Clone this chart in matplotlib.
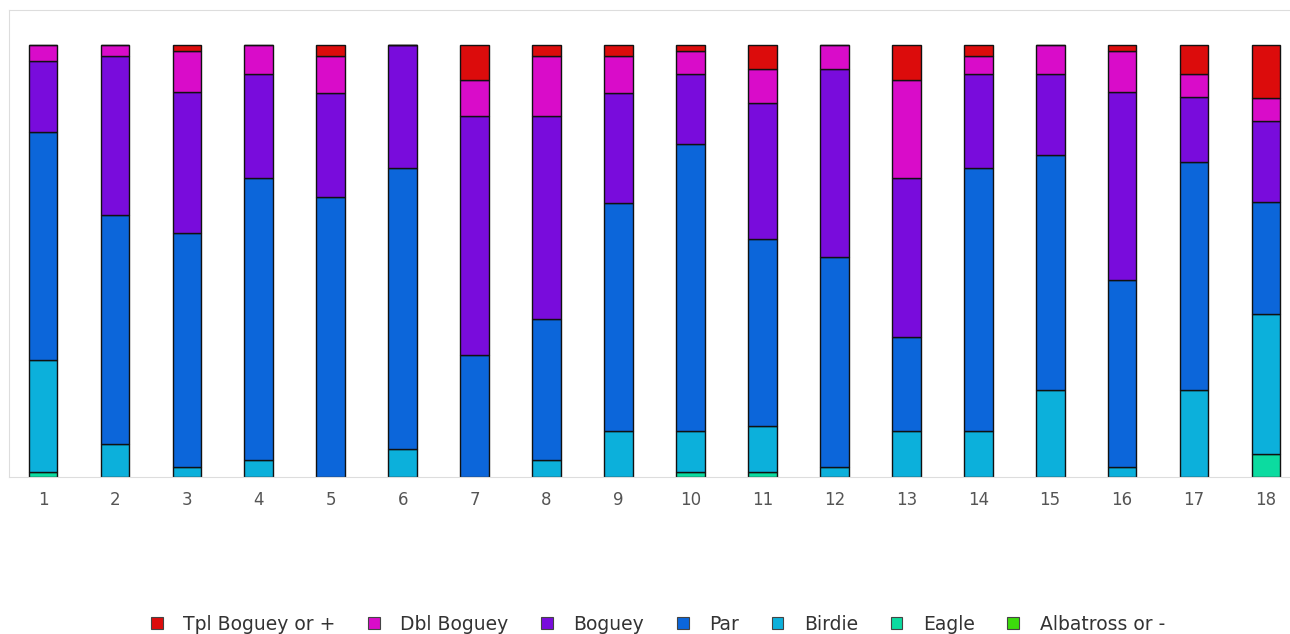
import numpy as np
import matplotlib
matplotlib.use("Agg")
import matplotlib.pyplot as plt
from matplotlib.patches import Patch

plt.rcParams['font.family'] = ['DejaVu Sans']

holes = [str(i) for i in range(1, 19)]

# percentages per hole
tpl = [0, 0, 1.3, 0, 2.6, 0, 8.0, 2.6, 2.6, 1.3, 5.5, 0, 8.0, 2.6, 0, 1.3, 6.7, 12.2]
dbl = [3.8, 2.6, 9.6, 6.7, 8.4, 0, 8.4, 13.8, 8.4, 5.4, 7.9, 5.5, 22.9, 4.2, 6.7, 9.6, 5.4, 5.3]
bog = [16.3, 36.7, 32.6, 24.2, 24.2, 28.4, 55.4, 47.1, 25.5, 16.3, 31.4, 43.5, 36.7, 21.7, 18.8, 43.4, 15.1, 18.8]
par = [52.9, 53.0, 54.3, 65.2, 64.8, 65.2, 28.2, 32.6, 52.8, 66.3, 43.3, 48.8, 21.7, 60.9, 54.3, 43.5, 52.6, 25.9]
birdie = [25.9, 7.7, 2.2, 3.9, 0, 6.4, 0, 3.9, 10.7, 9.6, 10.8, 2.2, 10.7, 10.6, 20.2, 2.2, 20.2, 32.5]
eagle = [1.1, 0, 0, 0, 0, 0, 0, 0, 0, 1.1, 1.1, 0, 0, 0, 0, 0, 0, 5.3]
albatross = [0] * 18

names = ['Albatross or -', 'Eagle', 'Birdie', 'Par', 'Boguey', 'Dbl Boguey', 'Tpl Boguey or +']
series = [albatross, eagle, birdie, par, bog, dbl, tpl]
colors = ['#3cdb0c', '#0cdba0', '#0cb0db', '#0c66da', '#790cdc', '#d90cc9', '#dc0c0c']

fig = plt.figure(figsize=(12.9, 6.34), dpi=100)
ax = fig.add_axes([9 / 1290, (634 - 477) / 634, 1291 / 1290, (477 - 10) / 634])

x = np.arange(len(holes))
bottom = np.zeros(len(holes))
for vals, c in zip(series, colors):
    vals = np.array(vals)
    ax.bar(x, vals, 0.4, bottom=bottom, color=c, edgecolor='#111111', linewidth=1.0)
    bottom += vals

ax.set_xlim(-0.473, 17.473)
ax.set_ylim(0, 108.1)
ax.set_xticks(x)
ax.set_xticklabels(holes, fontsize=12, color='#555555')
ax.tick_params(axis='x', length=0, pad=10)
ax.set_yticks([])
for s in ['left', 'top', 'bottom']:
    ax.spines[s].set_color('#dddddd')
ax.spines['right'].set_visible(False)

handles = [Patch(facecolor=c, edgecolor='#444444', linewidth=0.8, label=n)
           for n, c in zip(names[::-1], colors[::-1])]
leg = fig.legend(handles=handles, loc='center', bbox_to_anchor=(658 / 1290, 10 / 634), ncol=7,
                 frameon=False, fontsize=13.5, handlelength=0.62, handleheight=0.62,
                 handletextpad=1.1, columnspacing=1.74)
for t in leg.get_texts():
    t.set_color('#333333')

fig.savefig('out.png', dpi=100)
